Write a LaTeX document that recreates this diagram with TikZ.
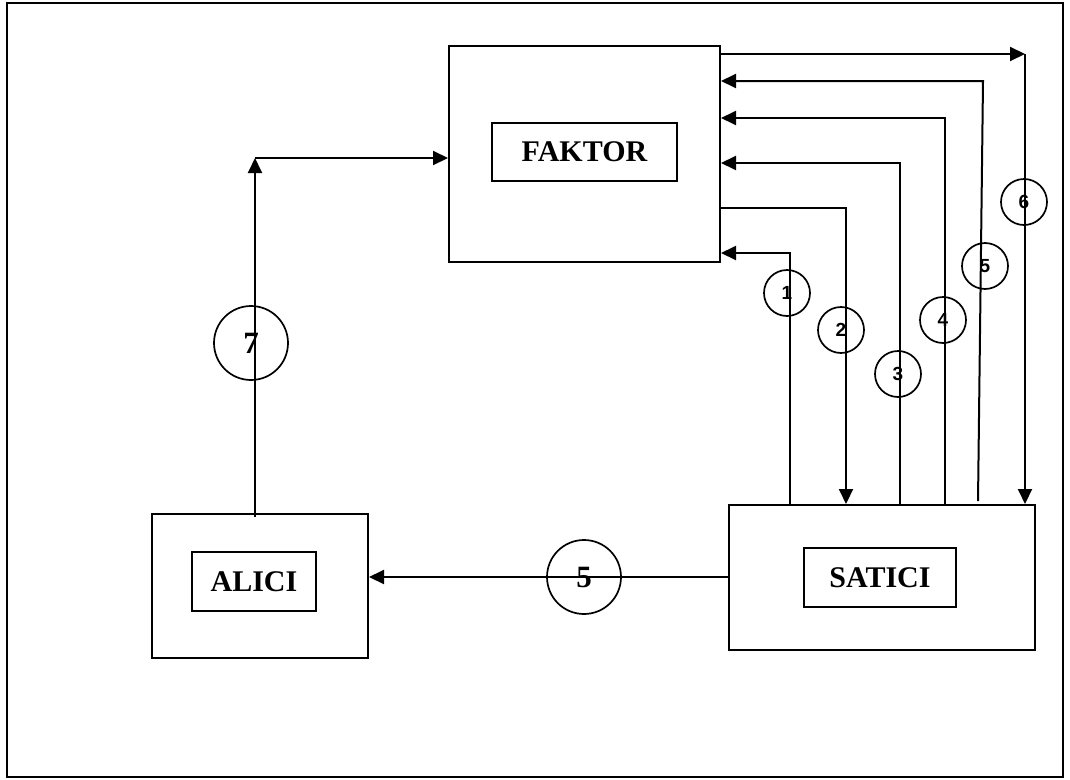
\documentclass[tikz,border=0pt]{standalone}
\usepackage{fontspec}
\setmainfont{Liberation Serif}
\newfontfamily\arialfont{Liberation Sans}
\usepackage{tikz}
\usetikzlibrary{shapes.geometric, arrows.meta}

\begin{document}
\begin{tikzpicture}[x=1pt, y=-1pt]
        \tikzstyle{party} = [rectangle, draw=black, line width=2pt, inner sep=0pt]
        \tikzstyle{tag} = [rectangle, draw=black, line width=1.8pt, inner sep=0pt, text centered, font=\bfseries\fontsize{30}{34}\selectfont]
        \tikzstyle{stepno} = [circle, draw=black, line width=1.7pt, minimum size=46pt, inner sep=0pt, font=\arialfont\bfseries\fontsize{19}{21}\selectfont]
        \tikzstyle{bigno} = [circle, draw=black, line width=1.7pt, minimum size=74pt, inner sep=0pt, font=\bfseries\fontsize{31}{34}\selectfont]
        \tikzstyle{arrow} = [line width=2pt, -{Triangle[length=15pt,width=14pt]}]

        \useasboundingbox (0,0) rectangle (1070,779);
        \draw [line width=2.5pt] (7,3) rectangle (1063,777);

        % parties
        \node (faktor) [party, minimum width=271pt, minimum height=216pt] at (584.5,154) {};
        \node (satici) [party, minimum width=306pt, minimum height=145pt] at (882,577.5) {};
        \node (alici) [party, minimum width=216pt, minimum height=144pt] at (260,586) {};
        \node (faktorlbl) [tag, minimum width=185pt, minimum height=58pt] at (584.5,152) {FAKTOR};
        \node (saticilbl) [tag, minimum width=152pt, minimum height=59pt] at (880,577.5) {SATICI};
        \node (alicilbl) [tag, minimum width=124pt, minimum height=59pt] at (254,581.5) {ALICI};

        % step numbers
        \node (n1) [stepno] at (787,293) {1};
        \node (n2) [stepno] at (841,330) {2};
        \node (n3) [stepno] at (898,374) {3};
        \node (n4) [stepno] at (943,320) {4};
        \node (n5) [stepno] at (985,266) {5};
        \node (n6) [stepno] at (1024,202) {6};
        \node (n7) [bigno] at (251,343) {7};
        \node (n8) [bigno] at (584,577) {5};

        \coordinate (k5) at (983,81);
        \coordinate (k6) at (1025,54);
        \coordinate (k7) at (255,158);

        \draw [arrow] ([xshift=-92pt]satici.north) |- ([yshift=-99pt]faktor.east);
        \draw [arrow] ([yshift=-54pt]faktor.east) -| ([xshift=-36pt]satici.north);
        \draw [arrow] ([xshift=18pt]satici.north) |- ([yshift=-9pt]faktor.east);
        \draw [arrow] ([xshift=63pt]satici.north) |- ([yshift=36pt]faktor.east);
        \draw [arrow] ([xshift=96pt,yshift=3pt]satici.north) -- (k5) -- (k5 -| faktor.east);
        \draw [arrow] ([yshift=100pt]faktor.east) -- (k6);
        \draw [arrow] (k6) -- (k6 |- satici.north);
        \draw [arrow] ([xshift=-5pt,yshift=-4pt]alici.north) -- (k7);
        \draw [arrow] (k7) -- (k7 -| faktor.west);
        \draw [arrow] (satici.west |- n8) -- (alici.east |- n8);
\end{tikzpicture}
\end{document}
